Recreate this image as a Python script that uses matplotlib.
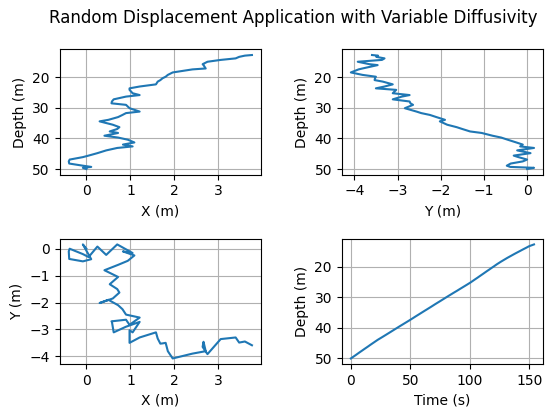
import numpy as np
import matplotlib
matplotlib.use("Agg")
import matplotlib.pyplot as plt
from matplotlib.ticker import MultipleLocator

# ---------- trajectory ----------
time_s = [0.0, 1.5, 2.6, 4.1, 6.6, 9.2, 11.4, 14.4, 16.2, 19.2,
          22.6, 26.0, 28.1, 30.6, 33.5, 37.2, 40.1, 42.6, 46.4, 48.5,
          51.8, 54.2, 57.5, 62.0, 64.1, 67.8, 70.6, 73.1, 75.2, 79.7,
          84.3, 86.4, 89.0, 91.9, 95.7, 97.8, 100.3, 104.4, 106.3, 108.5,
          111.1, 114.4, 116.3, 118.5, 120.4, 122.6, 125.8, 130.1, 131.4, 136.5,
          137.9, 141.8, 144.7, 147.2, 149.6, 152.4, 153.8]

depth = [50.0, 49.6, 49.3, 48.9, 48.2, 47.5, 46.9, 46.1, 45.6, 44.8,
         43.9, 43.1, 42.6, 42.0, 41.3, 40.4, 39.7, 39.1, 38.2, 37.7,
         36.9, 36.3, 35.5, 34.4, 33.9, 33.0, 32.3, 31.7, 31.2, 30.1,
         29.0, 28.5, 27.9, 27.2, 26.3, 25.8, 25.2, 24.1, 23.6, 23.0,
         22.3, 21.4, 20.9, 20.3, 19.8, 19.2, 18.4, 17.4, 17.1, 16.0,
         15.7, 14.9, 14.3, 13.8, 13.3, 12.9, 12.7]

x_pos = [0.00, -0.08, 0.11, -0.08, -0.39, -0.40, -0.38, -0.08, 0.05, 0.25,
         0.45, 0.70, 1.05, 0.83, 1.09, 0.94, 0.72, 0.41, 0.72, 0.53,
         0.70, 0.75, 0.60, 0.30, 0.50, 0.72, 0.82, 0.90, 1.21, 0.98,
         0.90, 0.57, 0.58, 0.62, 0.90, 1.21, 1.05, 0.98, 0.98, 1.21,
         1.58, 1.62, 1.68, 1.73, 1.80, 1.85, 1.96, 2.41, 2.71, 2.66,
         2.64, 2.75, 3.05, 3.39, 3.47, 3.60, 3.76]

y_pos = [0.00, 0.16, -0.39, -0.47, -0.38, -0.10, 0.00, -0.20, -0.31, 0.08,
         -0.23, 0.16, -0.16, -0.10, -0.25, -0.45, -0.60, -0.80, -1.05, -1.32,
         -1.50, -1.63, -1.85, -2.02, -1.90, -2.10, -2.25, -2.45, -2.56, -2.83,
         -2.64, -2.70, -2.72, -3.11, -2.90, -2.72, -3.11, -3.03, -3.50, -3.30,
         -3.11, -3.34, -3.53, -3.52, -3.50, -3.81, -4.08, -3.90, -3.81, -3.46,
         -3.65, -3.92, -3.36, -3.30, -3.49, -3.45, -3.59]

fig, axs = plt.subplots(2, 2, figsize=(5.52, 4.11), dpi=100)
fig.subplots_adjust(left=0.108, right=0.984, bottom=0.114, top=0.880,
                    wspace=0.40, hspace=0.51)
fig.suptitle("Random Displacement Application with Variable Diffusivity",
             x=0.532, y=0.956, va="center", fontsize=12)

ax = axs[0, 0]
ax.plot(x_pos, depth)
ax.invert_yaxis()
ax.xaxis.set_major_locator(MultipleLocator(1))
ax.yaxis.set_major_locator(MultipleLocator(10))
ax.set_xlabel("X (m)")
ax.set_ylabel("Depth (m)")
ax.grid(True)

ax = axs[0, 1]
ax.plot(y_pos, depth)
ax.invert_yaxis()
ax.xaxis.set_major_locator(MultipleLocator(1))
ax.yaxis.set_major_locator(MultipleLocator(10))
ax.set_xlabel("Y (m)")
ax.set_ylabel("Depth (m)")
ax.grid(True)

ax = axs[1, 0]
ax.plot(x_pos, y_pos)
ax.xaxis.set_major_locator(MultipleLocator(1))
ax.yaxis.set_major_locator(MultipleLocator(1))
ax.set_xlabel("X (m)")
ax.set_ylabel("Y (m)")
ax.grid(True)

ax = axs[1, 1]
ax.plot(time_s, depth)
ax.invert_yaxis()
ax.xaxis.set_major_locator(MultipleLocator(50))
ax.yaxis.set_major_locator(MultipleLocator(10))
ax.set_xlabel("Time (s)")
ax.set_ylabel("Depth (m)")
ax.grid(True)

plt.savefig("out.png", dpi=100)
